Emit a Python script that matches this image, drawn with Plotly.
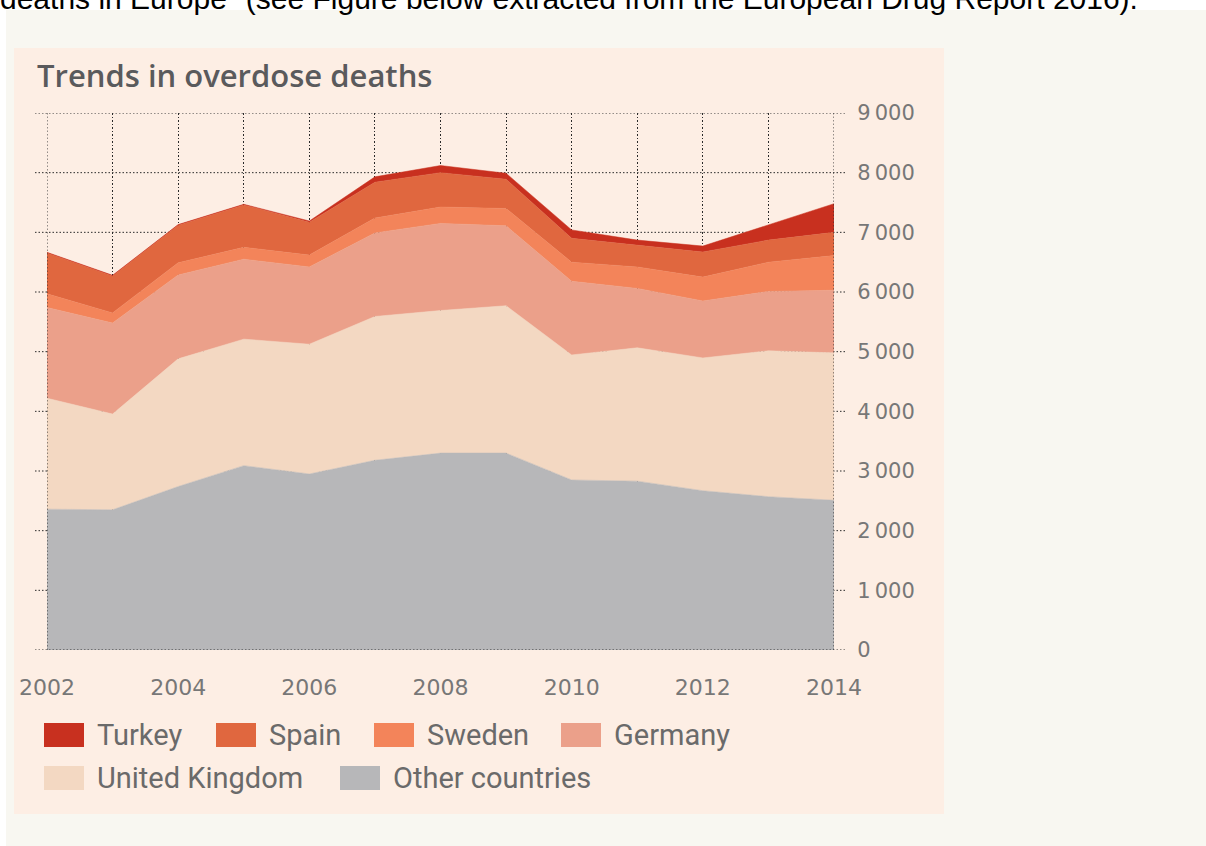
import plotly.graph_objects as go

# ---- data ----
years = [2002, 2003, 2004, 2005, 2006, 2007, 2008, 2009, 2010, 2011, 2012, 2013, 2014]
other_countries = [2360, 2350, 2740, 3090, 2950, 3180, 3300, 3300, 2850, 2830, 2670, 2570, 2510]
united_kingdom = [1860, 1605, 2140, 2120, 2175, 2410, 2390, 2470, 2095, 2235, 2225, 2445, 2470]
germany = [1520, 1525, 1405, 1340, 1295, 1400, 1460, 1340, 1235, 995, 955, 995, 1050]
sweden = [230, 170, 205, 200, 200, 250, 275, 290, 320, 360, 400, 490, 580]
spain = [685, 620, 630, 710, 550, 600, 575, 490, 400, 370, 420, 370, 390]
turkey = [10, 10, 10, 10, 20, 90, 120, 100, 140, 80, 100, 250, 480]

series_names = ["Other countries", "United Kingdom", "Germany", "Sweden", "Spain", "Turkey"]
series_values = [other_countries, united_kingdom, germany, sweden, spain, turkey]
series_colors = ["#b7b7b9", "#f3d8c2", "#eba08a", "#f3845a", "#e0673f", "#c8301f"]

x_tick_labels = ["2002", "", "2004", "", "2006", "", "2008", "", "2010", "", "2012", "", "2014"]
y_tick_values = [0, 1000, 2000, 3000, 4000, 5000, 6000, 7000, 8000, 9000]
y_tick_labels = ["0", "1\u2009000", "2\u2009000", "3\u2009000", "4\u2009000", "5\u2009000",
                 "6\u2009000", "7\u2009000", "8\u2009000", "9\u2009000"]

legend_row1 = ["Turkey", "Spain", "Sweden", "Germany"]
legend_row2 = ["United Kingdom", "Other countries"]

title_text = "Trends in overdose deaths"
header_text = 'deaths in Europe" (see Figure below extracted from the European Drug Report 2016).'

# ---- layout helpers ----
W, H = 1206, 846
def px(x):
    return x / W
def py(y):
    return 1 - y / H

DOT = "1.5px,2px"
DOTCOLOR = "#2a2a2a"

fig = go.Figure()
for name, vals, col in zip(series_names, series_values, series_colors):
    fig.add_trace(go.Scatter(
        x=years, y=vals, name=name, stackgroup="one", mode="lines",
        line=dict(width=0.5, color=col), fillcolor=col, showlegend=False,
        hoverinfo="x+y+name"))

shapes = []
# cream page background and white strip
shapes.append(dict(type="rect", xref="paper", yref="paper", x0=px(6), x1=px(W), y0=py(H), y1=py(10),
                   fillcolor="#f8f7f1", line=dict(width=0), layer="below"))
# chart panel
shapes.append(dict(type="rect", xref="paper", yref="paper", x0=px(14), x1=px(944), y0=py(814), y1=py(48),
                   fillcolor="#fdeee4", line=dict(width=0), layer="below"))
# horizontal dotted grid lines extending beyond the plot (tick marks)
for v in y_tick_values:
    shapes.append(dict(type="line", xref="paper", yref="y", x0=px(35), x1=px(845), y0=v, y1=v,
                       line=dict(color=DOTCOLOR, width=1, dash=DOT),
                       layer="above" if v == 0 else "below"))
# frame edges drawn over the areas
for xv in (years[0], years[-1]):
    shapes.append(dict(type="line", xref="x", yref="y", x0=xv, x1=xv, y0=0, y1=y_tick_values[-1],
                       line=dict(color=DOTCOLOR, width=1, dash=DOT), layer="above"))

annotations = []
annotations.append(dict(text=title_text, xref="paper", yref="paper", x=px(35), y=py(75),
                        xanchor="left", yanchor="middle", showarrow=False,
                        font=dict(family="Open Sans", size=31, color="#5a5a5c", weight=600)))
annotations.append(dict(text=header_text, xref="paper", yref="paper", x=px(-2), y=py(-1.5),
                        xanchor="left", yanchor="middle", showarrow=False,
                        font=dict(family="Liberation Sans", size=30, color="#000000")))

# legend (swatches + labels)
legend_colors = dict(zip(series_names, series_colors))
row1_x = [44, 216, 374, 561]
row2_x = [44, 340]
for names, xs, yc in ((legend_row1, row1_x, 735), (legend_row2, row2_x, 778)):
    for nm, x0 in zip(names, xs):
        shapes.append(dict(type="rect", xref="paper", yref="paper", x0=px(x0), x1=px(x0 + 40),
                           y0=py(yc + 12), y1=py(yc - 12), fillcolor=legend_colors[nm],
                           line=dict(width=0), layer="above"))
        annotations.append(dict(text=nm, xref="paper", yref="paper", x=px(x0 + 51), y=py(yc),
                                xanchor="left", yanchor="middle", showarrow=False,
                                font=dict(family="Roboto", size=29, color="#6a6a6a")))

fig.update_layout(
    width=W, height=H, margin=dict(l=0, r=0, t=0, b=0, autoexpand=False),
    paper_bgcolor="#ffffff", plot_bgcolor="rgba(0,0,0,0)",
    shapes=shapes, annotations=annotations, showlegend=False,
    xaxis=dict(domain=[px(47), px(834)], range=[years[0], years[-1]], automargin=False,
               tickvals=years, ticktext=x_tick_labels,
               showgrid=True, gridcolor=DOTCOLOR, gridwidth=1, griddash=DOT,
               zeroline=False, showline=False, ticks="outside", ticklen=18,
               tickcolor="rgba(0,0,0,0)",
               tickfont=dict(family="DejaVu Sans", size=22, color="#777777")),
    yaxis=dict(domain=[py(650), py(113)], range=[0, 9000], side="right", automargin=False,
               tickvals=y_tick_values, ticktext=y_tick_labels,
               showgrid=False, zeroline=False, showline=False,
               ticks="outside", ticklen=18, tickcolor="rgba(0,0,0,0)",
               tickfont=dict(family="DejaVu Sans", size=21, color="#777777")),
)

fig.write_html("out.html", config={"displayModeBar": False},
               post_script="document.body.style.margin='0px';document.body.style.overflow='hidden';")
